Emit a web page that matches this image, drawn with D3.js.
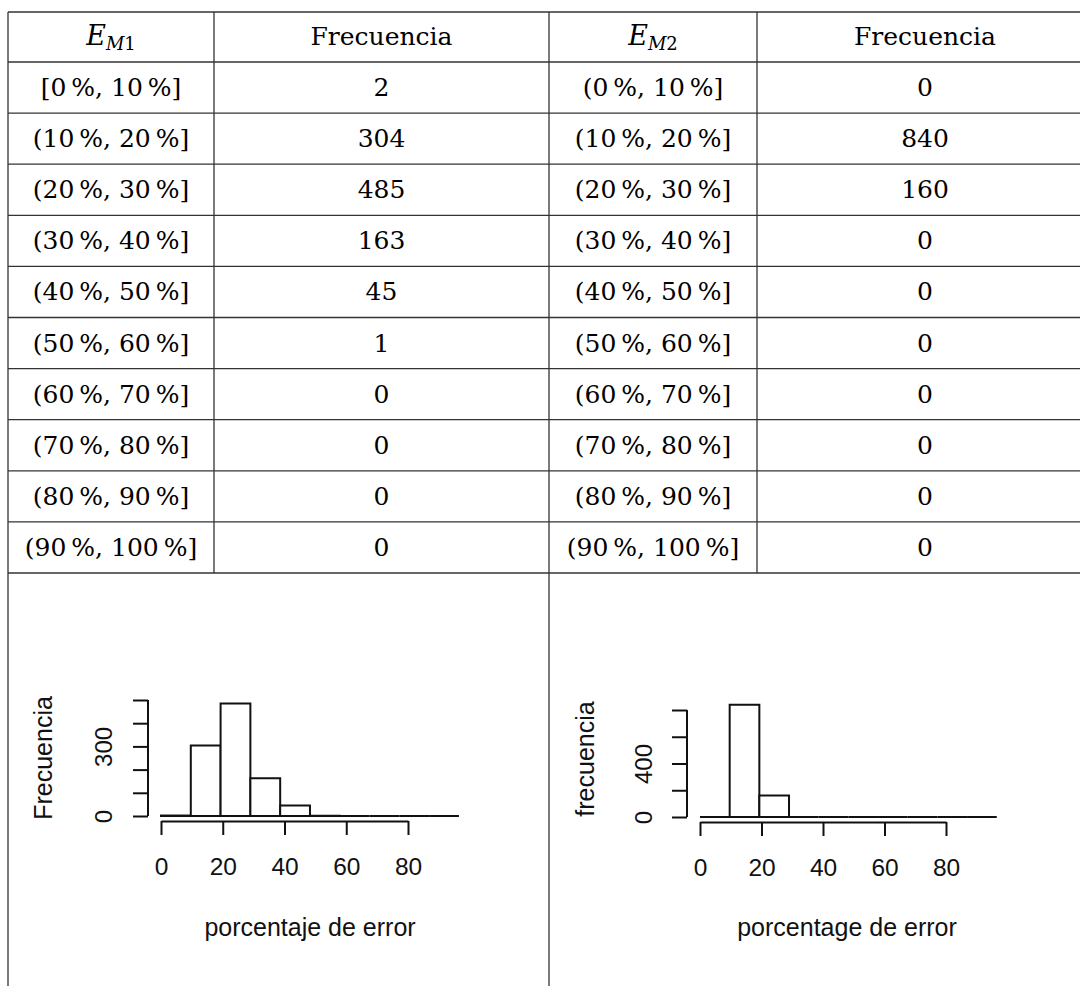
<!DOCTYPE html>
<html>
<head>
<meta charset="utf-8">
<script src="https://cdn.jsdelivr.net/npm/d3@7"></script>
<style>
  body { margin: 0; background: #fff; }
  svg { display: block; }
</style>
</head>
<body>
<svg id="chart" width="1080" height="986"></svg>
<script>
// table data
var intervalsM1 = ["[0\u2009%, 10\u2009%]", "(10\u2009%, 20\u2009%]", "(20\u2009%, 30\u2009%]", "(30\u2009%, 40\u2009%]", "(40\u2009%, 50\u2009%]",
                   "(50\u2009%, 60\u2009%]", "(60\u2009%, 70\u2009%]", "(70\u2009%, 80\u2009%]", "(80\u2009%, 90\u2009%]", "(90\u2009%, 100\u2009%]"];
var intervalsM2 = ["(0\u2009%, 10\u2009%]", "(10\u2009%, 20\u2009%]", "(20\u2009%, 30\u2009%]", "(30\u2009%, 40\u2009%]", "(40\u2009%, 50\u2009%]",
                   "(50\u2009%, 60\u2009%]", "(60\u2009%, 70\u2009%]", "(70\u2009%, 80\u2009%]", "(80\u2009%, 90\u2009%]", "(90\u2009%, 100\u2009%]"];
var freqM1 = [2, 304, 485, 163, 45, 1, 0, 0, 0, 0];
var freqM2 = [0, 840, 160, 0, 0, 0, 0, 0, 0, 0];

// histogram breaks as drawn (R hist)
var binEdges = [0, 9.65, 19.3, 28.95, 38.6, 48.25, 57.9, 67.55, 77.2, 86.85, 96.5];
var xTicks = [0, 20, 40, 60, 80];
var yTicks1 = [0, 100, 200, 300, 400, 500];
var yLabels1 = [0, 300];
var yTicks2 = [0, 200, 400, 600, 800];
var yLabels2 = [0, 400];

var svg = d3.select("#chart");
svg.append("rect").attr("width", 1080).attr("height", 986).attr("fill", "#fff");

// ---- table ----
var colX = [8, 214, 549, 757, 1093];
var rowY = [12, 62];
for (var i = 1; i <= 10; i++) rowY.push(62 + 51.1 * i);
var tableBottom = rowY[rowY.length - 1];
var serif = "'DejaVu Serif', 'Liberation Serif', serif";
var lineCol = "#333";

var grid = svg.append("g");
rowY.forEach(function(y) {
  grid.append("line").attr("x1", colX[0]).attr("x2", colX[4]).attr("y1", y).attr("y2", y)
    .attr("stroke", lineCol).attr("stroke-width", 1.3);
});
colX.forEach(function(x, i) {
  var y2 = (i == 0 || i == 2 || i == 4) ? 986 : tableBottom;
  grid.append("line").attr("x1", x).attr("x2", x).attr("y1", rowY[0]).attr("y2", y2)
    .attr("stroke", lineCol).attr("stroke-width", 1.3);
});

var colC = [0, 1, 2, 3].map(function(i) { return (colX[i] + colX[i + 1]) / 2; });
var headY = (rowY[0] + rowY[1]) / 2 + 8;

// headers
function mathHeader(x, sub) {
  var t = svg.append("text").attr("x", x).attr("y", headY).attr("text-anchor", "middle")
    .attr("font-family", serif).attr("font-size", 27).attr("fill", "#000");
  t.append("tspan").attr("font-style", "italic").text("E");
  t.append("tspan").attr("font-style", "italic").attr("font-size", 18).attr("dy", 5).text("M");
  t.append("tspan").attr("font-size", 18).text(sub);
}
mathHeader(colC[0], "1");
mathHeader(colC[2], "2");
[colC[1], colC[3]].forEach(function(x) {
  svg.append("text").attr("x", x).attr("y", headY).attr("text-anchor", "middle")
    .attr("font-family", serif).attr("font-size", 25).attr("fill", "#000").text("Frecuencia");
});

var cols = [intervalsM1, freqM1, intervalsM2, freqM2];
cols.forEach(function(arr, c) {
  svg.append("g").selectAll("text").data(arr).enter().append("text")
    .attr("x", colC[c])
    .attr("y", function(d, i) { return (rowY[i + 1] + rowY[i + 2]) / 2 + 8.5; })
    .attr("text-anchor", "middle")
    .attr("font-family", serif).attr("font-size", 25).attr("fill", "#000")
    .text(function(d) { return d; });
});

// ---- histograms ----
var sans = "'Liberation Sans', Arial, sans-serif";

function histogram(opt) {
  var g = svg.append("g");
  var x = d3.scaleLinear().domain([0, 80]).range([opt.x0, opt.x80]);
  var y = d3.scaleLinear().domain([0, opt.yMax]).range([opt.y0, opt.yTop]);

  // bars (paths so empty bins still draw a line)
  g.selectAll("path.bar").data(opt.counts).enter().append("path")
    .attr("class", "bar")
    .attr("d", function(d, i) {
      var a = x(binEdges[i]), b = x(binEdges[i + 1]);
      return "M" + a + "," + y(0) + "V" + y(d) + "H" + b + "V" + y(0) + "Z";
    })
    .attr("fill", "#fff").attr("stroke", "#111").attr("stroke-width", 2);

  // x axis
  var xa = g.append("g").attr("transform", "translate(0," + opt.xAxisY + ")")
    .call(d3.axisBottom(x).tickValues(xTicks).tickSize(14).tickSizeOuter(0).tickPadding(23));
  xa.select(".domain").attr("stroke", "#111").attr("stroke-width", 2);
  xa.selectAll(".tick line").attr("stroke", "#111").attr("stroke-width", 2);
  xa.selectAll("text").attr("font-family", sans).attr("font-size", 24.5).attr("fill", "#111");

  // y axis
  var ya = g.append("g").attr("transform", "translate(" + opt.yAxisX + ",0)")
    .call(d3.axisLeft(y).tickValues(opt.yTicks).tickSize(15).tickSizeOuter(0)
      .tickFormat(function(d) { return opt.yLabels.indexOf(d) >= 0 ? d : ""; }));
  ya.select(".domain").attr("stroke", "#111").attr("stroke-width", 2)
    .attr("d", "M0," + y(0) + "V" + y(opt.yTicks[opt.yTicks.length - 1]));
  ya.selectAll(".tick line").attr("stroke", "#111").attr("stroke-width", 2);
  ya.selectAll("text").attr("font-family", sans).attr("font-size", 24).attr("fill", "#111")
    .attr("transform", "rotate(-90)").attr("x", 0).attr("dy", 0)
    .attr("y", opt.labelOff + 8.6).attr("text-anchor", "middle");

  g.append("text").attr("transform", "translate(" + opt.yTitleX + "," + opt.yTitleY + ") rotate(-90)")
    .attr("text-anchor", "middle").attr("dy", "0.36em")
    .attr("font-family", sans).attr("font-size", 25).attr("fill", "#111").text(opt.yTitle);
  g.append("text").attr("x", opt.xTitleX).attr("y", 936)
    .attr("text-anchor", "middle")
    .attr("font-family", sans).attr("font-size", 25).attr("fill", "#111").text(opt.xTitle);
}

histogram({
  counts: freqM1, x0: 161, x80: 408, yMax: 500, y0: 816, yTop: 700, xAxisY: 821, yAxisX: 148,
  yTicks: yTicks1, yLabels: yLabels1, labelOff: -45,
  yTitle: "Frecuencia", yTitleX: 43, yTitleY: 758,
  xTitle: "porcentaje de error", xTitleX: 310
});
histogram({
  counts: freqM2, x0: 700, x80: 946, yMax: 800, y0: 817, yTop: 710, xAxisY: 822, yAxisX: 687,
  yTicks: yTicks2, yLabels: yLabels2, labelOff: -44,
  yTitle: "frecuencia", yTitleX: 585, yTitleY: 759,
  xTitle: "porcentage de error", xTitleX: 847
});
</script>
</body>
</html>
